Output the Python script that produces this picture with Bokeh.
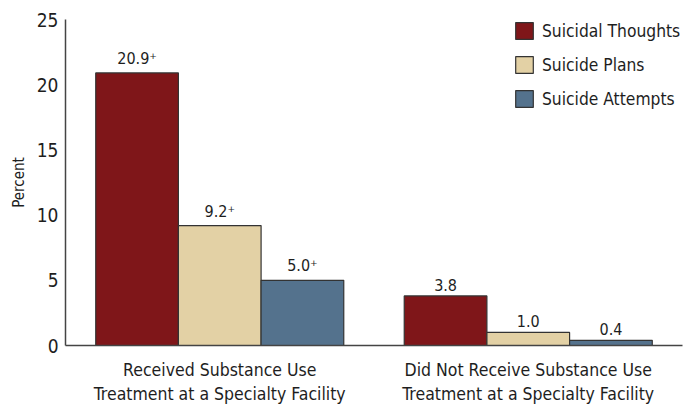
from bokeh.plotting import figure
from bokeh.models import ColumnDataSource, FactorRange, Legend, LegendItem
from bokeh.transform import dodge
from bokeh.core.properties import value
from bokeh.embed import file_html
from bokeh.resources import INLINE

groups = ["Received Substance Use\nTreatment at a Specialty Facility",
          "Did Not Receive Substance Use\nTreatment at a Specialty Facility"]
series = ["Suicidal Thoughts", "Suicide Plans", "Suicide Attempts"]
thoughts = [20.9, 3.8]
plans = [9.2, 1.0]
attempts = [5.0, 0.4]
thoughts_lbl = ["20.9\u207a", "3.8"]
plans_lbl = ["9.2\u207a", "1.0"]
attempts_lbl = ["5.0\u207a", "0.4"]
colors = ["#7f1619", "#e3d1a5", "#54728d"]
y_ticks = [0, 5, 10, 15, 20, 25]

FONT = "DejaVu Sans Condensed"
TXT = "#1e1e1e"

p = figure(width=685, height=406, x_range=FactorRange(*groups, range_padding=0),
           y_range=(0, 25), output_backend="svg", toolbar_location=None,
           min_border_left=65, min_border_right=3, min_border_top=19, min_border_bottom=61)
p.x_range.range_padding = 0
p.outline_line_color = None
p.grid.grid_line_color = None
p.background_fill_color = "white"

bw = 0.268
offsets = [-bw, 0, bw]
vals = [thoughts, plans, attempts]
lbls = [thoughts_lbl, plans_lbl, attempts_lbl]
items = []
for s, v, l, c, o in zip(series, vals, lbls, colors, offsets):
    src = ColumnDataSource(dict(g=groups, v=v, l=l))
    r = p.vbar(x=dodge("g", o, range=p.x_range), top="v", width=bw, source=src,
               fill_color=c, line_color="#333333", line_width=1.2)
    items.append(LegendItem(label=s, renderers=[r]))
    p.text(x=dodge("g", o, range=p.x_range), y="v", text="l", source=src,
           text_align="center", text_baseline="bottom", y_offset=-5,
           text_font=value(FONT), text_font_size="16px", text_color=TXT)

legend = Legend(items=items, location=(448, 236), glyph_width=22, glyph_height=21,
                spacing=13, label_standoff=7, padding=0, margin=0,
                border_line_color=None, background_fill_alpha=0,
                label_text_font=FONT, label_text_font_size="17.3px",
                label_text_color=TXT)
p.add_layout(legend, "center")

p.yaxis.ticker = y_ticks
p.yaxis.axis_label = "Percent"
p.yaxis.axis_label_text_font = FONT
p.yaxis.axis_label_text_font_style = "normal"
p.yaxis.axis_label_text_font_size = "15px"
p.yaxis.axis_label_text_color = TXT
p.yaxis.axis_label_standoff = 6
p.yaxis.major_label_text_font = FONT
p.yaxis.major_label_text_font_size = "19px"
p.yaxis.major_label_text_color = TXT
p.yaxis.major_label_standoff = 7
p.yaxis.major_tick_out = 0
p.yaxis.major_tick_in = 0
p.yaxis.minor_tick_out = 0
p.yaxis.minor_tick_in = 0
p.yaxis.major_tick_line_color = None
p.yaxis.minor_tick_line_color = None
p.yaxis.axis_line_color = "#444444"
p.yaxis.axis_line_width = 1.5

p.xaxis.major_label_text_font = FONT
p.xaxis.major_label_text_font_size = "17.5px"
p.xaxis.major_label_text_color = TXT
p.xaxis.major_label_standoff = 14
p.xaxis.axis_label_standoff = 0
p.xaxis.major_tick_out = 0
p.xaxis.major_tick_in = 0
p.xaxis.major_tick_line_color = None
p.xaxis.axis_line_color = "#444444"
p.xaxis.axis_line_width = 1.5

open("out.html", "w").write(file_html(p, INLINE))
